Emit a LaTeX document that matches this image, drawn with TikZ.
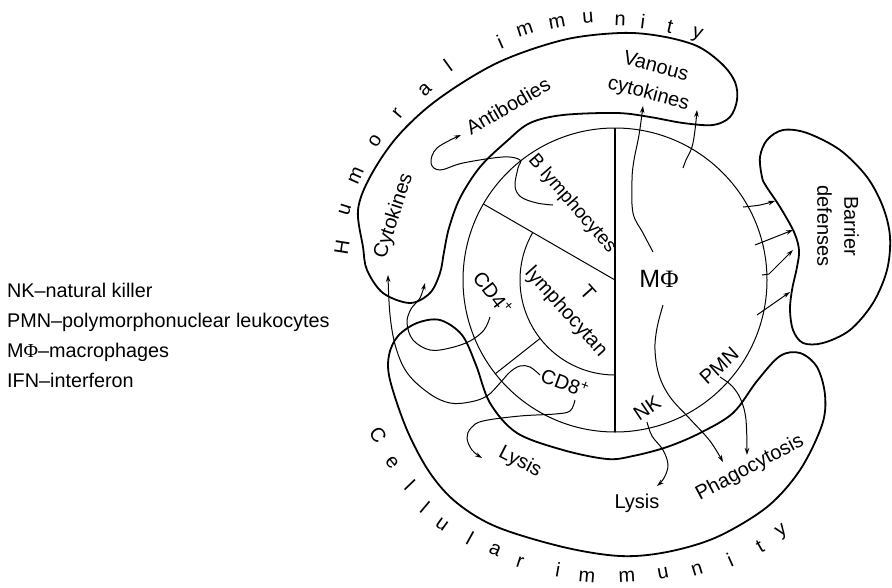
\documentclass[tikz,border=0pt]{standalone}
\usepackage{fontspec}
\setmainfont{Liberation Sans}
\newfontfamily\phifont{Liberation Serif}
\usetikzlibrary{arrows.meta}
\begin{document}
\begin{tikzpicture}[x=1pt,y=-1pt,
  blob/.style={line width=1.8pt, line join=round},
  thinline/.style={line width=1pt},
  arr/.style={line width=1pt, -{Stealth[length=7pt,width=4.5pt]}},
  lab/.style={font=\fontsize{20}{28}\selectfont, inner sep=0pt},
  arcl/.style={font=\fontsize{20}{24}\selectfont, inner sep=0pt},
  legend/.style={font=\fontsize{19.8}{24}\selectfont, anchor=base west, inner sep=0pt}]
\useasboundingbox (0,0) rectangle (892,587);

% ---- central disk ----
\draw[thinline] (615,280) circle[radius=152pt];
\draw[thinline] plot[domain=150:270, samples=80] ({615+95*cos(\x)}, {280-95*sin(\x)});
\draw[thinline] (483.4,204) -- (615,280);
\draw[thinline] (540,338.5) -- (495,374);
\draw[line width=1.5pt] (615,128) -- (615,432);

% ---- humoral blob ----
\draw[blob] plot[smooth cycle, tension=0.55] coordinates {
 (363,247) (358,210) (370,177) (397,137) (437,100) (497,63) (563,40) (620,33)
 (660,36) (697,46) (722,64) (735,82) (737,100) (730,117) (713,125) (683,123)
 (650,117) (617,113) (563,115) (530,123) (507,141) (480,167) (460,198) (449,228)
 (444,252) (440,273) (430,293) (410,303) (383,293) (367,270)};

% ---- barrier blob ----
\draw[blob] plot[smooth cycle, tension=0.55] coordinates {
 (762,177) (760,157) (767,140) (783,130) (807,133) (840,150) (867,177) (883,207)
 (890,237) (887,270) (873,303) (850,330) (823,343) (803,343) (793,330) (790,310)
 (792,290) (797,267) (799,250) (794,232) (780,207) (766,186)};

% ---- cellular blob ----
\draw[blob] plot[smooth cycle, tension=0.55] coordinates {
 (390,380) (389,355) (398,336) (417,323) (440,320) (462,335) (476,365) (490,403)
 (517,433) (563,450) (607,459) (633,456) (667,447) (700,433) (733,413) (757,381)
 (780,356) (800,353) (817,367) (825,395) (822,425) (800,470) (767,507) (717,537)
 (667,552) (620,556) (563,547) (497,527) (457,503) (430,473) (407,430)};

% ---- labels ----
\node[lab, rotate=30] (antib) at (508,106) {Antibodies};
\node[lab, rotate=-15, align=center] (vcyt) at (652,81) {Vanous\\cytokines};
\node[lab, rotate=72] (cyt) at (394,216) {Cytokines};
\node[lab, rotate=-49, font=\fontsize{19}{22}\selectfont] (blym) at (572,204) {B lymphocytes};
\node[lab, rotate=-48, align=center] (tlym) at (576,303) {T\\lymphocytan};
\node[lab, rotate=-52] (cd4) at (493,293) {CD4\textsuperscript{+}};
\node[lab, rotate=-20] (cd8) at (565,383) {CD8\textsuperscript{+}};
\node[lab, font=\fontsize{25}{30}\selectfont] (mphi) at (659,279) {M{\phifont Φ}};
\node[lab, rotate=42] (pmn) at (719,366) {PMN};
\node[lab, rotate=34] (nk) at (647,408) {NK};
\node[lab, rotate=-27] (lys1) at (520,462) {Lysis};
\node[lab] (lys2) at (637,503) {Lysis};
\node[lab, rotate=28] (phago) at (750,468) {Phagocytosis};
\node[lab, rotate=-90, align=center, font=\fontsize{20}{27}\selectfont] (barr) at (838,226) {Barrier\\defenses};

% ---- arc letters ----
\foreach \px/\py/\r/\l [count=\i] in {342/247/81/H, 345/210/73/u, 356/176/66/m, 375/141/58/o,
  398/113/50/r, 425/90/43/a, 448/65/36/l, 500/42/24/i, 525/30/18/m, 557/23/11/m, 588/18/5/u,
  620/20/-2/n, 643/22/-7/i, 670/27/-13/t, 697/35/-19/y}
  \node[arcl, rotate=\r] (hum\i) at (\px,\py) {\l};
\foreach \px/\py/\r/\l [count=\i] in {378/435/-58/C, 392/463/-52/e, 410/485/-46/l, 425/507/-40/l,
  442/525/-36/u, 470/538/-29/l, 495/550/-24/a, 520/562/-18/r, 558/570/-10/i, 587/577/-5/m,
  627/577/3/m, 663/573/11/u, 697/570/17/n, 730/560/24/i, 760/547/30/t, 782/532/35/y}
  \node[arcl, rotate=\r] (cel\i) at (\px,\py) {\l};

% ---- legend ----
\node[legend] (leg1) at (7,297) {NK–natural killer};
\node[legend] (leg2) at (7,327) {PMN–polymorphonuclear leukocytes};
\node[legend] (leg3) at (7,357) {M{\phifont Φ}–macrophages};
\node[legend] (leg4) at (7,387) {IFN–interferon};

% ---- arrows ----
% B lymphocytes -> Antibodies
\draw[arr] plot[smooth, tension=0.6] coordinates {(553,205) (537,203) (521,197) (515,186) (518,168) (520,160) (503,157) (463,163) (440,170) (431,163) (437,148) (461,135)};
% MPhi -> various cytokines
\draw[arr] plot[smooth, tension=0.6] coordinates {(653,252) (643,233) (633,213) (632,180) (634,160) (639,135) (643,106)};
\draw[arr] plot[smooth, tension=0.6] coordinates {(683,168) (686,160) (692,147) (695,130) (697,110)};
% MPhi -> Phagocytosis
\draw[arr] plot[smooth, tension=0.6] coordinates {(663,305) (657,328) (655,350) (659,375) (670,397) (690,419) (710,441) (723,462)};
% PMN -> Phagocytosis
\draw[arr] plot[smooth, tension=0.6] coordinates {(720,377) (732,386) (741,400) (746,420) (747,455)};
% NK -> Lysis
\draw[arr] plot[smooth, tension=0.6] coordinates {(647,422) (652,436) (663,450) (668,465) (664,478) (657,486)};
% CD8 -> Lysis
\draw[arr] plot[smooth, tension=0.6] coordinates {(575,400) (570,411) (555,414) (520,416) (483,421) (471,428) (467,438) (472,450) (482,458)};
% CD4 -> Cytokines
\draw[arr] plot[smooth, tension=0.6] coordinates {(490,317) (484,330) (470,341) (450,348) (430,350) (413,340) (407,323) (411,309) (420,298) (425,283)};
% CD8 -> Cytokines
\draw[arr] plot[smooth, tension=0.6] coordinates {(540,375) (530,367) (520,366) (510,372) (500,383) (487,396) (470,402) (450,403) (430,394) (408,374) (396,348) (390,315) (388,275)};
% to barrier defenses
\draw[arr] plot[smooth, tension=0.6] coordinates {(743,207) (760,205) (775,201)};
\draw[arr] (755,245) -- (793,230);
\draw[arr] (762,275) -- (769,274) -- (793,250);
\draw[arr] (757,315) -- (790,292);
\end{tikzpicture}
\end{document}
